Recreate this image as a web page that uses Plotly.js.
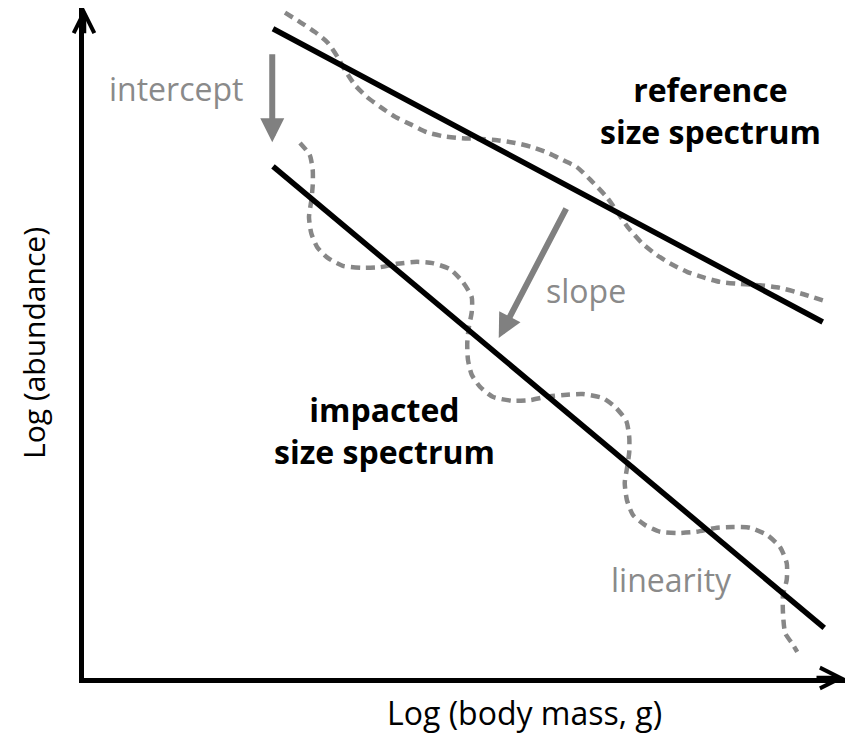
<!DOCTYPE html>
<html>
<head>
<meta charset="utf-8">
<script src="https://cdn.plot.ly/plotly-3.0.1.min.js"></script>
<style>html,body{margin:0;padding:0;background:#fff;}#chart{width:854px;height:736px;}</style>
</head>
<body>
<div id="chart"></div>
<script>
// Conceptual size-spectrum diagram (log body mass vs log abundance, arbitrary units)
var refLineX = [2.52, 9.85];
var refLineY = [9.72, 5.33];
var impLineX = [2.52, 9.87];
var impLineY = [7.66, 0.75];

var refCurveX = [2.68, 2.88, 3.08, 3.25, 3.39, 3.48, 3.61, 3.77, 3.95, 4.15, 4.37, 4.57, 4.79, 5.04, 5.28, 5.51, 5.75, 5.97, 6.19, 6.39, 6.57, 6.75, 6.97, 7.11, 7.25, 7.44, 7.64, 7.81, 8.04, 8.25, 8.48, 8.75, 9.01, 9.28, 9.55, 9.91];
var refCurveY = [9.96, 9.82, 9.67, 9.51, 9.28, 9.10, 8.88, 8.70, 8.55, 8.40, 8.28, 8.17, 8.11, 8.08, 8.07, 8.05, 8.01, 7.95, 7.86, 7.75, 7.65, 7.46, 7.20, 6.98, 6.75, 6.51, 6.33, 6.21, 6.08, 6.00, 5.93, 5.90, 5.88, 5.84, 5.76, 5.63];

var impCurveX = [2.88, 3.01, 3.05, 3.05, 3.03, 3.00, 3.03, 3.11, 3.25, 3.45, 3.71, 3.95, 4.17, 4.44, 4.65, 4.88, 5.05, 5.17, 5.17, 5.13, 5.11, 5.12, 5.17, 5.28, 5.45, 5.71, 5.95, 6.17, 6.44, 6.65, 6.92, 7.08, 7.23, 7.27, 7.27, 7.24, 7.21, 7.24, 7.32, 7.48, 7.68, 7.91, 8.17, 8.44, 8.65, 8.88, 9.11, 9.28, 9.37, 9.37, 9.32, 9.32, 9.35, 9.44, 9.51];
var impCurveY = [8.01, 7.83, 7.60, 7.38, 7.14, 6.90, 6.66, 6.45, 6.29, 6.17, 6.14, 6.15, 6.20, 6.23, 6.21, 6.12, 5.93, 5.70, 5.48, 5.24, 5.01, 4.76, 4.54, 4.36, 4.21, 4.15, 4.16, 4.21, 4.24, 4.25, 4.19, 4.06, 3.85, 3.61, 3.38, 3.14, 2.92, 2.66, 2.44, 2.29, 2.19, 2.17, 2.19, 2.25, 2.26, 2.25, 2.14, 1.96, 1.72, 1.47, 1.24, 0.97, 0.67, 0.52, 0.39];

// Arrows: [tailX, tailY, headX, headY]
var interceptArrow = [2.51, 9.36, 2.51, 8.02];
var slopeArrow = [6.44, 7.05, 5.53, 5.09];

// Labels: text, x, y
var labelText = ['intercept', 'slope', 'linearity', '<b>reference</b><br><b>size spectrum</b>', '<b>impacted</b><br><b>size spectrum</b>'];
var labelX = [1.23, 6.69, 7.84, 8.36, 4.01];
var labelY = [8.83, 5.80, 1.47, 8.50, 3.71];
var labelColor = ['#8a8a8a', '#8a8a8a', '#8a8a8a', '#000000', '#000000'];

var xMax = 10.147, yMax = 10.03;
var xAxisTitle = 'Log (body mass, g)';
var yAxisTitle = 'Log (abundance)';

var FONT = 'Open Sans, sans-serif';
var GRAY = '#878787';
var traces = [
  {x: refCurveX, y: refCurveY, mode: 'lines', line: {color: GRAY, width: 4.5, dash: '9px,6px', shape: 'spline', smoothing: 0.6}, hoverinfo: 'skip'},
  {x: impCurveX, y: impCurveY, mode: 'lines', line: {color: GRAY, width: 4.5, dash: '9px,6px', shape: 'spline', smoothing: 0.6}, hoverinfo: 'skip'},
  {x: refLineX, y: refLineY, mode: 'lines', line: {color: '#000', width: 5.5}, hoverinfo: 'skip'},
  {x: impLineX, y: impLineY, mode: 'lines', line: {color: '#000', width: 5.5}, hoverinfo: 'skip'}
];

var annotations = [];
function arrow(a, color, width, head, size) {
  annotations.push({x: a[2], y: a[3], ax: a[0], ay: a[1], xref: 'x', yref: 'y', axref: 'x', ayref: 'y',
    text: '', showarrow: true, arrowhead: head, arrowsize: size, arrowwidth: width, arrowcolor: color, standoff: 0});
}
arrow(interceptArrow, '#808080', 6, 2, 0.8);
arrow(slopeArrow, '#808080', 6, 2, 0.8);
// axis arrow tips
arrow([xMax - 0.4, 0, xMax, 0], '#000', 4.5, 5, 0.9);
arrow([0, yMax - 0.4, 0, yMax], '#000', 4.5, 5, 0.9);

for (var i = 0; i < labelText.length; i++) {
  annotations.push({x: labelX[i], y: labelY[i], xref: 'x', yref: 'y', text: labelText[i], showarrow: false,
    xanchor: 'center', yanchor: 'middle', align: 'center',
    font: {family: FONT, size: 32, color: labelColor[i]}});
}
// x-axis title (placed right of axis centre, as in the reference)
annotations.push({x: 0.5795, y: -0.052, xref: 'paper', yref: 'paper', text: xAxisTitle, showarrow: false,
  xanchor: 'center', yanchor: 'middle', borderpad: 0, font: {family: FONT, size: 32, color: '#000'}});

var layout = {
  width: 854, height: 736,
  margin: {l: 84, r: 9, t: 8, b: 58},
  paper_bgcolor: '#fff', plot_bgcolor: '#fff',
  showlegend: false,
  xaxis: {range: [0, xMax], showline: true, linewidth: 5, linecolor: '#000', showgrid: false, zeroline: false,
    showticklabels: false, ticks: '', fixedrange: true},
  yaxis: {range: [0, yMax], showline: true, linewidth: 5, linecolor: '#000', showgrid: false, zeroline: false,
    showticklabels: false, ticks: '', fixedrange: true,
    title: {text: yAxisTitle, font: {family: FONT, size: 30, color: '#000'}, standoff: 26}},
  annotations: annotations
};

Plotly.newPlot('chart', traces, layout, {staticPlot: true, displayModeBar: false});
</script>
</body>
</html>
